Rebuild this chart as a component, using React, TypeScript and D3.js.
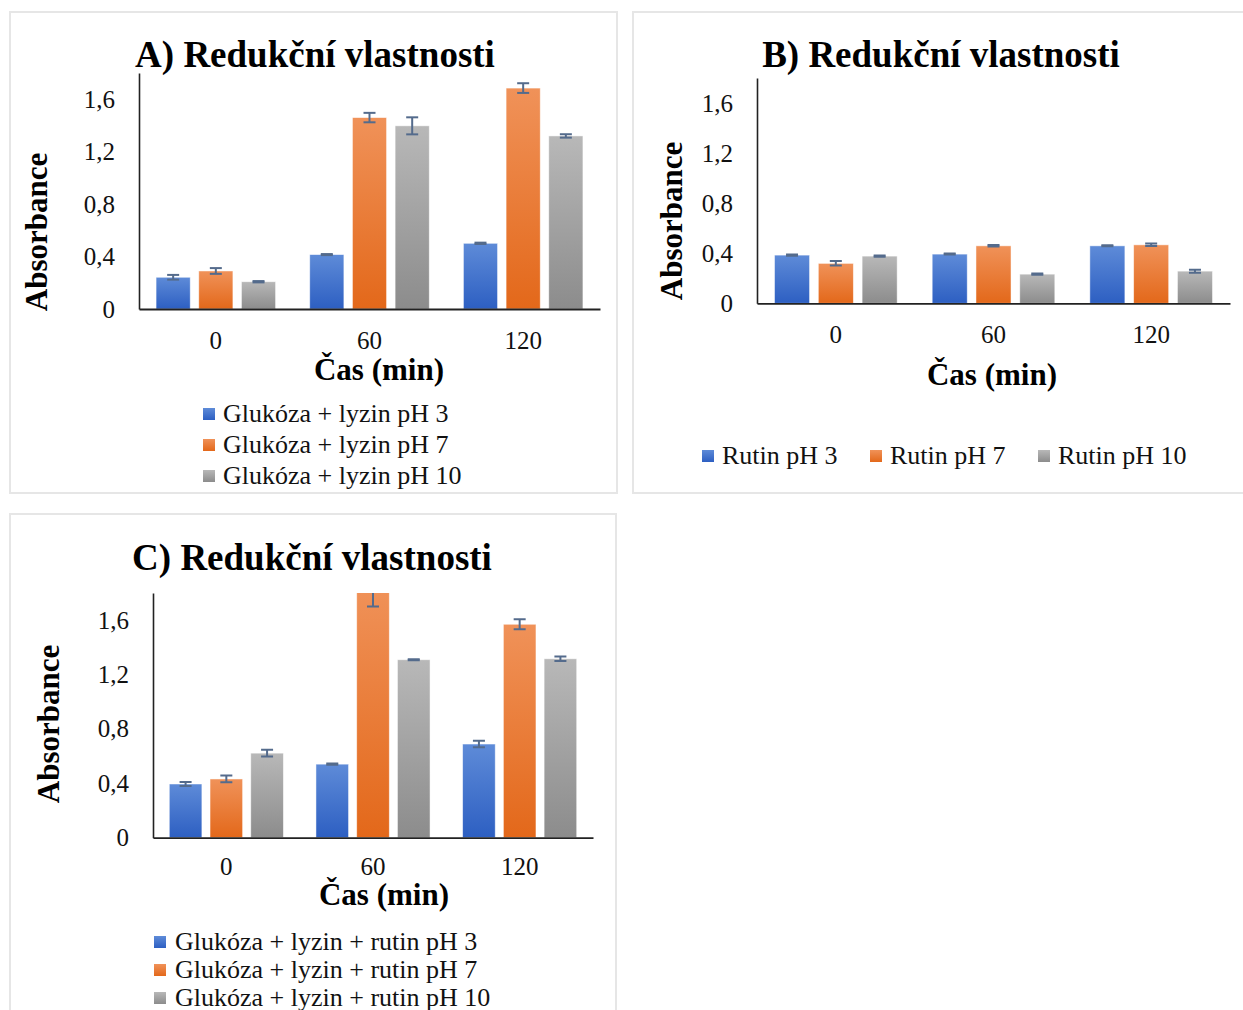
import { useEffect, useRef } from 'react';
import * as d3 from 'd3';

// values (absorbance), rows = series, columns = time points
const times = ['0', '60', '120'];
const yTicks = [0, 0.4, 0.8, 1.2, 1.6];
const yMax = 1.8;

const seriesA = ['Glukóza + lyzin pH 3', 'Glukóza + lyzin pH 7', 'Glukóza + lyzin pH 10'];
const valuesA = [
  [0.242, 0.415, 0.501],
  [0.29, 1.46, 1.685],
  [0.208, 1.397, 1.32],
];
const errorsA = [
  [0.018, 0.004, 0.005],
  [0.022, 0.036, 0.037],
  [0.005, 0.065, 0.013],
];

const seriesB = ['Rutin pH 3', 'Rutin pH 7', 'Rutin pH 10'];
const valuesB = [
  [0.385, 0.393, 0.459],
  [0.319, 0.459, 0.467],
  [0.377, 0.233, 0.257],
];
const errorsB = [
  [0.005, 0.004, 0.004],
  [0.018, 0.006, 0.01],
  [0.005, 0.005, 0.012],
];

const seriesC = [
  'Glukóza + lyzin + rutin pH 3',
  'Glukóza + lyzin + rutin pH 7',
  'Glukóza + lyzin + rutin pH 10',
];
const valuesC = [
  [0.395, 0.541, 0.689],
  [0.432, 1.86, 1.57],
  [0.622, 1.309, 1.316],
];
const errorsC = [
  [0.015, 0.005, 0.024],
  [0.025, 0.16, 0.037],
  [0.025, 0.004, 0.017],
];

// gradient top / bottom for each series colour
const fills = [
  { top: '#5e8bd8', bottom: '#2d5fc2' },
  { top: '#f09259', bottom: '#e3681a' },
  { top: '#b8b8b8', bottom: '#8c8c8c' },
];
const errColor = '#546b8c';
const FONT = "'Liberation Serif', 'Times New Roman', serif";

interface PanelCfg {
  id: string;
  title: string;
  series: string[];
  values: number[][];
  errors: number[][];
  box: { x: number; y: number; w: number; h: number };
  plot: { left: number; right: number; top: number; bottom: number };
  titlePos: [number, number];
  yLabelPos: [number, number];
  xLabelPos: [number, number];
  xTickPad: number;
  legend: { x: number; y: number; dx: number; dy: number }[];
}

const panels: PanelCfg[] = [
  {
    id: 'a',
    title: 'A) Redukční vlastnosti',
    series: seriesA,
    values: valuesA,
    errors: errorsA,
    box: { x: 10, y: 12, w: 607, h: 481 },
    plot: { left: 139, right: 600, top: 73, bottom: 309 },
    titlePos: [315, 67],
    yLabelPos: [47, 232],
    xLabelPos: [379, 380],
    xTickPad: 22,
    legend: [
      { x: 203, y: 422, dx: 20, dy: 0 },
      { x: 203, y: 453, dx: 20, dy: 0 },
      { x: 203, y: 484, dx: 20, dy: 0 },
    ],
  },
  {
    id: 'b',
    title: 'B) Redukční vlastnosti',
    series: seriesB,
    values: valuesB,
    errors: errorsB,
    box: { x: 633, y: 12, w: 620, h: 481 },
    plot: { left: 757, right: 1230, top: 78, bottom: 303.3 },
    titlePos: [941, 67],
    yLabelPos: [682, 221],
    xLabelPos: [992, 385],
    xTickPad: 22,
    legend: [
      { x: 702, y: 464, dx: 20, dy: 0 },
      { x: 870, y: 464, dx: 20, dy: 0 },
      { x: 1038, y: 464, dx: 20, dy: 0 },
    ],
  },
  {
    id: 'c',
    title: 'C) Redukční vlastnosti',
    series: seriesC,
    values: valuesC,
    errors: errorsC,
    box: { x: 10, y: 514, w: 606, h: 510 },
    plot: { left: 153, right: 593, top: 593, bottom: 837.7 },
    titlePos: [312, 570],
    yLabelPos: [59, 724],
    xLabelPos: [384, 905],
    xTickPad: 20,
    legend: [
      { x: 154, y: 950, dx: 21, dy: 0 },
      { x: 154, y: 978, dx: 21, dy: 0 },
      { x: 154, y: 1006, dx: 21, dy: 0 },
    ],
  },
];

const fmt = d3
  .formatLocale({ decimal: ',', thousands: ' ', grouping: [3], currency: ['', ''] })
  .format('~g');

const App = () => {
  const svgRef = useRef<SVGSVGElement>(null);

  useEffect(() => {
    if (!svgRef.current) return;
    const root = d3.select(svgRef.current);
    root.selectAll('*').remove();

    const defs = root.append('defs');
    fills.forEach((f, i) => {
      const g = defs
        .append('linearGradient')
        .attr('id', `grad${i}`)
        .attr('x1', 0)
        .attr('x2', 0)
        .attr('y1', 0)
        .attr('y2', 1);
      g.append('stop').attr('offset', '0%').attr('stop-color', f.top);
      g.append('stop').attr('offset', '100%').attr('stop-color', f.bottom);
    });

    panels.forEach((p) => {
      const svg = root.append('g');
      const { left, right, top, bottom } = p.plot;

      // panel frame
      svg
        .append('rect')
        .attr('x', p.box.x)
        .attr('y', p.box.y)
        .attr('width', p.box.w)
        .attr('height', p.box.h)
        .attr('fill', 'white')
        .attr('stroke', '#e6e6e6')
        .attr('stroke-width', 2);

      defs
        .append('clipPath')
        .attr('id', `clip-${p.id}`)
        .append('rect')
        .attr('x', left)
        .attr('y', top)
        .attr('width', right - left)
        .attr('height', bottom - top);

      const x0 = d3.scaleBand().domain(times).range([left, right]);
      const bw = x0.bandwidth() / 4.5;
      const x1 = d3
        .scaleBand()
        .domain(p.series)
        .range([bw / 2, x0.bandwidth() - bw / 2])
        .paddingInner(0.2);
      const y = d3.scaleLinear().domain([0, yMax]).range([bottom, top]);

      const plot = svg.append('g').attr('clip-path', `url(#clip-${p.id})`);

      p.series.forEach((s, si) => {
        const rows = times.map((t, ti) => ({
          t,
          v: p.values[si][ti],
          e: p.errors[si][ti],
        }));

        plot
          .selectAll(`.bar-${si}`)
          .data(rows)
          .enter()
          .append('rect')
          .attr('x', (d) => x0(d.t)! + x1(s)!)
          .attr('y', (d) => y(d.v))
          .attr('width', x1.bandwidth())
          .attr('height', (d) => y(0) - y(d.v))
          .attr('fill', `url(#grad${si})`)
          .attr('stroke', '#ffffff')
          .attr('stroke-opacity', 0.6)
          .attr('stroke-width', 0.8);

        const eb = plot
          .selectAll(`.err-${si}`)
          .data(rows)
          .enter()
          .append('g')
          .attr('stroke', errColor)
          .attr('stroke-width', 2);
        const cx = (d: { t: string }) => x0(d.t)! + x1(s)! + x1.bandwidth() / 2;
        eb.append('line')
          .attr('x1', cx)
          .attr('x2', cx)
          .attr('y1', (d) => y(d.v + d.e))
          .attr('y2', (d) => y(d.v - d.e));
        [1, -1].forEach((sign) => {
          eb.append('line')
            .attr('x1', (d) => cx(d) - 6)
            .attr('x2', (d) => cx(d) + 6)
            .attr('y1', (d) => y(d.v + sign * d.e))
            .attr('y2', (d) => y(d.v + sign * d.e));
        });
      });

      // axes
      svg
        .append('g')
        .attr('transform', `translate(${left},0)`)
        .call(d3.axisLeft(y).tickValues(yTicks).tickSize(0).tickSizeOuter(0).tickPadding(24).tickFormat((d) => fmt(d as number)))
        .call((g) => g.select('.domain').attr('stroke', '#222').attr('stroke-width', 1.6))
        .call((g) =>
          g
            .selectAll('.tick text')
            .attr('font-family', FONT)
            .attr('font-size', 25)
            .attr('fill', '#111')
        );

      svg
        .append('g')
        .attr('transform', `translate(0,${bottom})`)
        .call(d3.axisBottom(x0).tickSize(0).tickSizeOuter(0).tickPadding(p.xTickPad))
        .call((g) => g.select('.domain').attr('stroke', '#222').attr('stroke-width', 1.8))
        .call((g) =>
          g
            .selectAll('.tick text')
            .attr('font-family', FONT)
            .attr('font-size', 25)
            .attr('fill', '#111')
        );

      // titles
      svg
        .append('text')
        .attr('x', p.titlePos[0])
        .attr('y', p.titlePos[1])
        .attr('text-anchor', 'middle')
        .attr('font-family', FONT)
        .attr('font-weight', 'bold')
        .attr('font-size', 37)
        .attr('fill', '#000')
        .text(p.title);

      svg
        .append('text')
        .attr('transform', `translate(${p.yLabelPos[0]},${p.yLabelPos[1]}) rotate(-90)`)
        .attr('text-anchor', 'middle')
        .attr('font-family', FONT)
        .attr('font-weight', 'bold')
        .attr('font-size', 31)
        .attr('fill', '#000')
        .text('Absorbance');

      svg
        .append('text')
        .attr('x', p.xLabelPos[0])
        .attr('y', p.xLabelPos[1])
        .attr('text-anchor', 'middle')
        .attr('font-family', FONT)
        .attr('font-weight', 'bold')
        .attr('font-size', 31)
        .attr('fill', '#000')
        .text('Čas (min)');

      // legend
      const lg = svg
        .selectAll('.legend')
        .data(p.series)
        .enter()
        .append('g')
        .attr('transform', (_, i) => `translate(${p.legend[i].x},${p.legend[i].y})`);
      lg.append('rect')
        .attr('x', 0)
        .attr('y', -14)
        .attr('width', 12)
        .attr('height', 12)
        .attr('fill', (_, i) => `url(#grad${i})`);
      lg.append('text')
        .attr('x', (_, i) => p.legend[i].dx)
        .attr('y', 0)
        .attr('font-family', FONT)
        .attr('font-size', 26)
        .attr('fill', '#111')
        .text((d) => d);
    });
  }, []);

  return (
    <svg
      ref={svgRef}
      width={1243}
      height={1010}
      style={{ position: 'absolute', left: 0, top: 0, background: 'white' }}
    ></svg>
  );
};

export default App;
